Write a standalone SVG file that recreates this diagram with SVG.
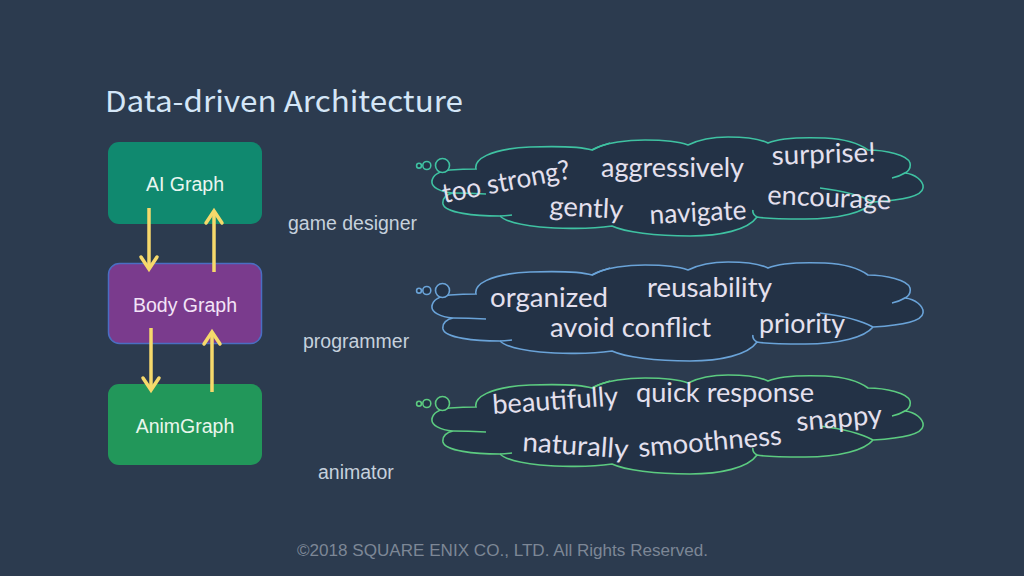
<svg xmlns="http://www.w3.org/2000/svg" xmlns:xlink="http://www.w3.org/1999/xlink" width="1024" height="576" viewBox="0 0 1024 576">
<style>
.title{font-family:"Noto Sans CJK JP","Noto Sans",sans-serif;font-size:29px;fill:#d4e6f7}
.boxtxt{font-family:"Liberation Sans",Arial,sans-serif;font-size:19.5px;text-anchor:middle}
.role{font-family:"Liberation Sans",Arial,sans-serif;font-size:19.5px;fill:#c6d1dd}
.arrow{stroke:#f6d96b;stroke-width:3.5;fill:none}
.cloud{fill:#233246;stroke-width:1.6}
.inner{fill:none;stroke-width:1.6}
.word{font-family:Lato,"Open Sans",sans-serif;font-size:27px;fill:#e4e0ee}
.copy{font-family:"Liberation Sans",Arial,sans-serif;font-size:16px;fill:#7d8796}
</style>
<defs>
<marker id="head" viewBox="0 0 15 20" refX="13" refY="10" markerWidth="15" markerHeight="20" markerUnits="userSpaceOnUse" orient="auto" overflow="visible">
<path d="M1,2 L13,10 L1,18" fill="none" stroke="#f6d96b" stroke-width="3.5" stroke-linecap="round"/>
</marker>
<path id="cloudShape" d="M500,216 C475,216 445,213 443,204 C442,198 447,194 453,193 C440,192 431,187 432,181 C433,174 441,171 450,170 Q463,169 476,169 C474,160 488,149 530,147 C560,146 582,147 592,150 C605,142 630,140 645,140 C665,140 680,142 688,145 C700,139 715,137 728,137 C745,137 760,139 768,143 C780,138 800,137 825,138 C845,139 860,144 868,150 C885,150 908,155 910,163 C911,168 909,171 905,173 C915,174 924,181 923,188 C922,196 905,200 873,202 C865,212 840,219 805,219 C780,219 762,218 757,217 C748,230 720,236 690,236 C655,236 625,232 612,226 C590,229 560,229 540,227 C520,225 505,221 500,216 Z"/>
<path id="cloudInner" d="M905,173 Q898,177 892,178 M873,202 C862,196 845,191 820,188 M757,217 Q752,214 753,210 M500,216 Q505,216 512,215 M453,193 Q468,193 486,194 M592,150 Q600,146 610,143"/>
<g id="bubbles">
<circle cx="419" cy="165.7" r="2.4"/>
<circle cx="426.8" cy="165.5" r="4"/>
<circle cx="442.5" cy="165.5" r="7"/>
</g>
</defs>
<rect width="1024" height="576" fill="#2c3b4f"/>
<text class="title" x="105" y="112" textLength="358" lengthAdjust="spacingAndGlyphs">Data-driven Architecture</text>

<g id="node-ai">
<rect x="108" y="142" width="154" height="82" rx="11" fill="#10896f"/>
<text class="boxtxt" x="185" y="191" fill="#eaf6f1">AI Graph</text>
</g>
<g id="node-body">
<rect x="108.5" y="263.5" width="153" height="80" rx="11" fill="#7a3b8d" stroke="#4a6ec2" stroke-width="1.5"/>
<text class="boxtxt" x="185" y="312" fill="#f3e3f7">Body Graph</text>
</g>
<g id="node-anim">
<rect x="108" y="384" width="154" height="81" rx="11" fill="#22975a"/>
<text class="boxtxt" x="185" y="433" fill="#e9f6ec">AnimGraph</text>
</g>

<g id="connectors">
<line class="arrow" x1="149" y1="208" x2="149" y2="269" marker-end="url(#head)"/>
<line class="arrow" x1="214" y1="272" x2="214" y2="211" marker-end="url(#head)"/>
<line class="arrow" x1="151" y1="328" x2="151" y2="390" marker-end="url(#head)"/>
<line class="arrow" x1="212" y1="392" x2="212" y2="332" marker-end="url(#head)"/>
</g>

<g id="labels">
<text class="role" x="288" y="230">game designer</text>
<text class="role" x="303" y="348">programmer</text>
<text class="role" x="318" y="479">animator</text>
</g>

<g id="cloud-designer" stroke="#3fc2a2">
<use xlink:href="#cloudShape" class="cloud"/>
<use xlink:href="#cloudInner" class="inner"/>
<use xlink:href="#bubbles" class="cloud"/>
<text class="word" stroke="none" x="444" y="203" textLength="130" lengthAdjust="spacingAndGlyphs" transform="rotate(-11 444 203)">too strong?</text>
<text class="word" stroke="none" x="601" y="177" textLength="143" lengthAdjust="spacingAndGlyphs" font-size="28">aggressively</text>
<text class="word" stroke="none" x="772" y="165" textLength="104" lengthAdjust="spacingAndGlyphs" transform="rotate(-2 772 165)">surprise!</text>
<text class="word" stroke="none" x="549" y="215" textLength="74" lengthAdjust="spacingAndGlyphs" transform="rotate(3 549 215)">gently</text>
<text class="word" stroke="none" x="650" y="224" textLength="97" lengthAdjust="spacingAndGlyphs" transform="rotate(-3 650 224)">navigate</text>
<text class="word" stroke="none" x="767" y="204" textLength="124" lengthAdjust="spacingAndGlyphs" transform="rotate(2.5 767 204)">encourage</text>
</g>

<g id="cloud-programmer" stroke="#6aa3d8">
<g transform="translate(0,125)">
<use xlink:href="#cloudShape" class="cloud"/>
<use xlink:href="#cloudInner" class="inner"/>
<use xlink:href="#bubbles" class="cloud"/>
</g>
<text class="word" stroke="none" x="490" y="307" textLength="118" lengthAdjust="spacingAndGlyphs" font-size="28">organized</text>
<text class="word" stroke="none" x="647" y="297" textLength="125" lengthAdjust="spacingAndGlyphs" font-size="28">reusability</text>
<text class="word" stroke="none" x="550" y="337" textLength="161" lengthAdjust="spacingAndGlyphs" font-size="28">avoid conflict</text>
<text class="word" stroke="none" x="759" y="333" textLength="86" lengthAdjust="spacingAndGlyphs" font-size="28">priority</text>
</g>

<g id="cloud-animator" stroke="#5ccb80">
<g transform="translate(0,238)">
<use xlink:href="#cloudShape" class="cloud"/>
<use xlink:href="#cloudInner" class="inner"/>
<use xlink:href="#bubbles" class="cloud"/>
</g>
<text class="word" stroke="none" x="493" y="414" textLength="126" lengthAdjust="spacingAndGlyphs" transform="rotate(-4 493 414)">beautifully</text>
<text class="word" stroke="none" x="636" y="402" textLength="178" lengthAdjust="spacingAndGlyphs">quick response</text>
<text class="word" stroke="none" x="797" y="431" textLength="86" lengthAdjust="spacingAndGlyphs" transform="rotate(-5 797 431)">snappy</text>
<text class="word" stroke="none" x="522" y="451" textLength="106" lengthAdjust="spacingAndGlyphs" transform="rotate(4 522 451)">naturally</text>
<text class="word" stroke="none" x="639" y="457" textLength="144" lengthAdjust="spacingAndGlyphs" transform="rotate(-5 639 457)">smoothness</text>
</g>

<text class="copy" x="297" y="556" textLength="411" lengthAdjust="spacingAndGlyphs">©2018 SQUARE ENIX CO., LTD. All Rights Reserved.</text>
</svg>
